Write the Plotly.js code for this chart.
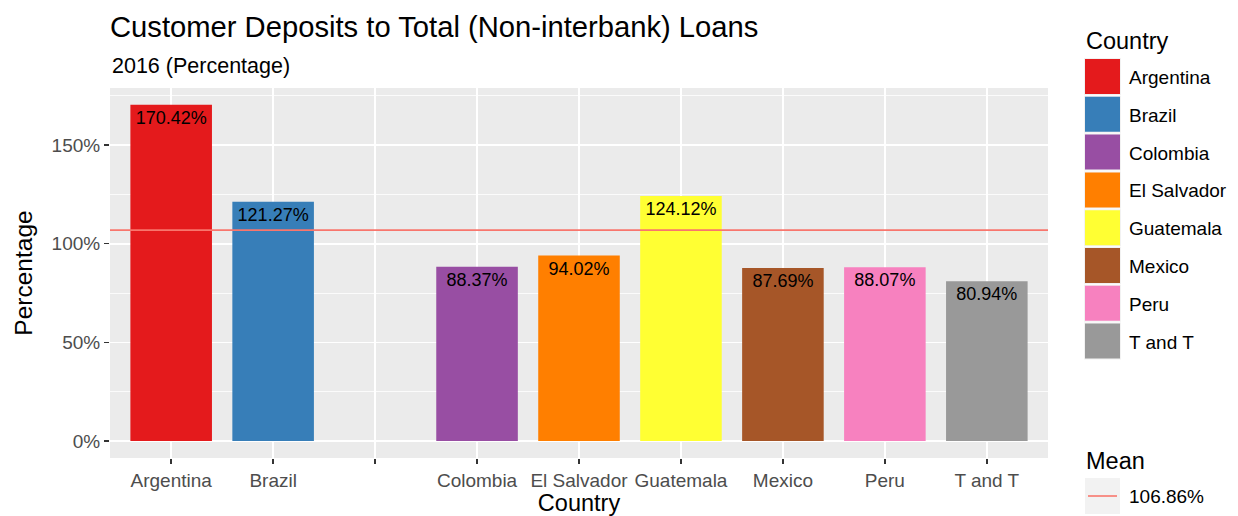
<!DOCTYPE html>
<html>
<head>
<meta charset="utf-8">
<script src="https://cdn.plot.ly/plotly-3.0.1.min.js"></script>
<style>html,body{margin:0;padding:0;background:#fff;}#chart{width:1238px;height:516px;}</style>
</head>
<body>
<div id="chart"></div>
<script>
// ---- data ----
const countries = ['Argentina', 'Brazil', '', 'Colombia', 'El Salvador', 'Guatemala', 'Mexico', 'Peru', 'T and T'];
const values = [170.42, 121.27, null, 88.37, 94.02, 124.12, 87.69, 88.07, 80.94];
const colors = ['#E41A1C', '#377EB8', null, '#984EA3', '#FF7F00', '#FFFF33', '#A65628', '#F781BF', '#999999'];
const meanValue = 106.86;
const yTicks = [0, 50, 100, 150];
const yTickLabels = ['0%', '50%', '100%', '150%'];

// ---- layout geometry (pixels) ----
const W = 1238, H = 516;
const L = 110, R = 1048, T = 88, B = 458;
const px = x => (x - L) / (R - L);
const py = y => (B - y) / (B - T);
const FONT = 'Liberation Sans, Arial, sans-serif';

const idx = countries.map((c, i) => i);

const bar = {
  type: 'bar',
  x: idx,
  y: values,
  width: 0.8,
  marker: { color: colors.map(c => c || 'rgba(0,0,0,0)'), line: { width: 0 } },
  text: values.map(v => v == null ? '' : v.toFixed(2) + '%'),
  textposition: 'inside',
  insidetextanchor: 'end',
  textangle: 0,
  constraintext: 'none',
  textfont: { family: FONT, size: 18, color: '#000000' },
  hoverinfo: 'x+y',
  showlegend: false
};

const shapes = [
  { type: 'line', xref: 'paper', x0: 0, x1: 1, yref: 'y', y0: meanValue, y1: meanValue,
    line: { color: '#F8766D', width: 1.6 }, layer: 'above' }
];
const annotations = [
  { text: '2016 (Percentage)', xref: 'paper', yref: 'paper', x: px(110), y: py(66),
    xanchor: 'left', yanchor: 'middle', showarrow: false, font: { family: FONT, size: 21.5, color: '#000' } },
  { text: 'Country', xref: 'paper', yref: 'paper', x: px(1084), y: py(41),
    xanchor: 'left', yanchor: 'middle', showarrow: false, font: { family: FONT, size: 23.5, color: '#000' } },
  { text: 'Mean', xref: 'paper', yref: 'paper', x: px(1084), y: py(461),
    xanchor: 'left', yanchor: 'middle', showarrow: false, font: { family: FONT, size: 23.5, color: '#000' } },
  { text: meanValue.toFixed(2) + '%', xref: 'paper', yref: 'paper', x: px(1127), y: py(496),
    xanchor: 'left', yanchor: 'middle', showarrow: false, font: { family: FONT, size: 19, color: '#000' } }
];

// legend: Country
let k = 0;
countries.forEach((c, i) => {
  if (!c) return;
  const top = 59 + k * 37.8;
  shapes.push({ type: 'rect', xref: 'paper', yref: 'paper', x0: px(1084), x1: px(1121), y0: py(top - 1), y1: py(top + 36),
    fillcolor: '#F2F2F2', line: { width: 0 } });
  shapes.push({ type: 'rect', xref: 'paper', yref: 'paper', x0: px(1085), x1: px(1120), y0: py(top), y1: py(top + 35),
    fillcolor: colors[i], line: { width: 0 } });
  annotations.push({ text: c, xref: 'paper', yref: 'paper', x: px(1127), y: py(top + 18.5),
    xanchor: 'left', yanchor: 'middle', showarrow: false, font: { family: FONT, size: 19, color: '#000' } });
  k++;
});
// legend: Mean
shapes.push({ type: 'rect', xref: 'paper', yref: 'paper', x0: px(1085), x1: px(1120), y0: py(478), y1: py(514),
  fillcolor: '#F2F2F2', line: { width: 0 } });
shapes.push({ type: 'line', xref: 'paper', yref: 'paper', x0: px(1088), x1: px(1117), y0: py(496), y1: py(496),
  line: { color: '#F8766D', width: 1.6 } });

const layout = {
  width: W, height: H,
  margin: { l: L, r: W - R, t: T, b: H - B, pad: 0 },
  paper_bgcolor: '#FFFFFF',
  plot_bgcolor: '#EBEBEB',
  font: { family: FONT, color: '#000' },
  title: { text: 'Customer Deposits to Total (Non-interbank) Loans', x: L / W, xref: 'container',
    xanchor: 'left', yref: 'container', y: 1 - 27 / H, yanchor: 'middle', font: { family: FONT, size: 29.2, color: '#000' } },
  showlegend: false,
  bargap: 0.2,
  xaxis: {
    type: 'linear', range: [-0.6, countries.length - 0.4],
    tickmode: 'array', tickvals: idx, ticktext: countries,
    showgrid: true, gridcolor: '#FFFFFF', gridwidth: 1.6,
    zeroline: false, showline: false,
    ticks: 'outside', ticklen: 5, tickwidth: 1.5, tickcolor: '#333333',
    tickfont: { family: FONT, size: 19, color: '#4D4D4D' },
    title: { text: 'Country', font: { family: FONT, size: 23.5, color: '#000' }, standoff: 3 },
    automargin: false, fixedrange: true
  },
  yaxis: {
    range: [-8.6, 178.9],
    tickmode: 'array', tickvals: yTicks, ticktext: yTickLabels,
    showgrid: true, gridcolor: '#FFFFFF', gridwidth: 1.6,
    minor: { tickmode: 'array', tickvals: [25, 75, 125, 175], showgrid: true, gridcolor: '#FFFFFF', gridwidth: 0.8, ticks: '' },
    zeroline: false, showline: false,
    ticks: 'outside', ticklen: 5, tickwidth: 1.5, tickcolor: '#333333',
    tickfont: { family: FONT, size: 19, color: '#4D4D4D' },
    title: { text: 'Percentage', font: { family: FONT, size: 24.5, color: '#000' }, standoff: 12 },
    automargin: false, fixedrange: true
  },
  shapes: shapes,
  annotations: annotations
};

Plotly.newPlot('chart', [bar], layout, { displayModeBar: false, staticPlot: true });
</script>
</body>
</html>
